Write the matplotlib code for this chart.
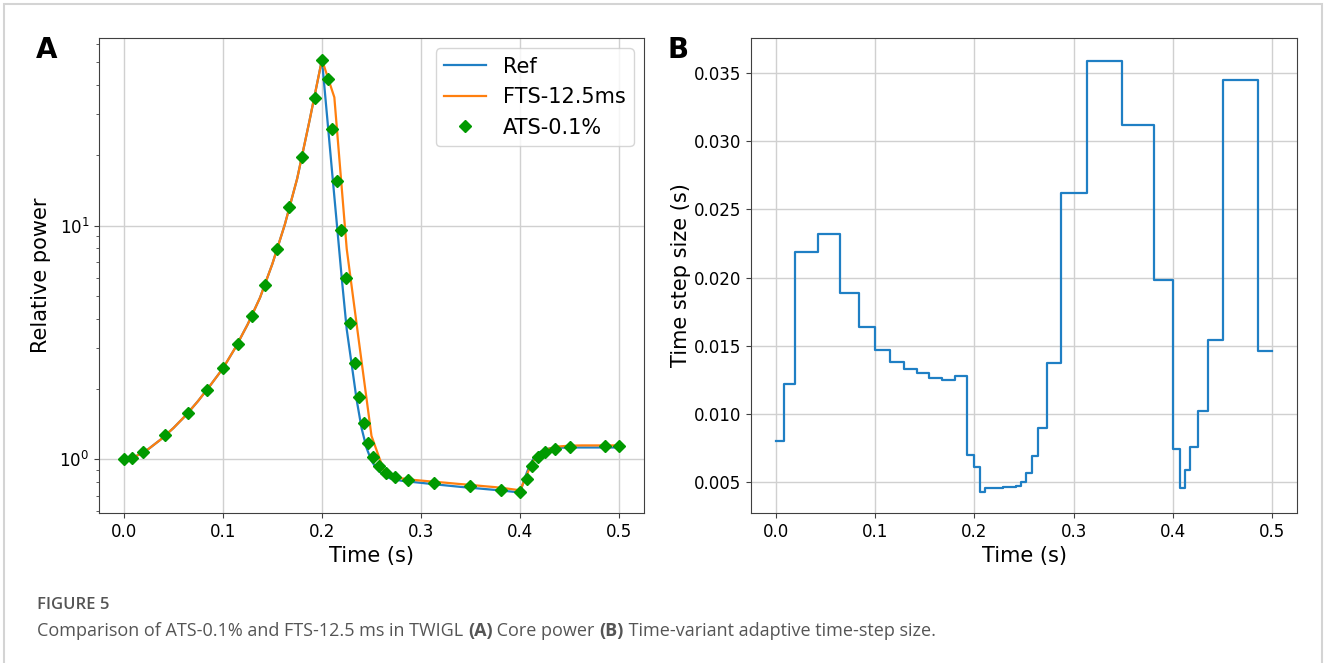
import numpy as np
import matplotlib
matplotlib.use("Agg")
import matplotlib.pyplot as plt
from matplotlib.patches import Rectangle

# ---------------- data ----------------
# Reference solution (fine time resolution)
ref_time = [0.0, 0.0125, 0.025, 0.0375, 0.05, 0.0625, 0.075, 0.0875, 0.1, 0.1125,
            0.125, 0.1375, 0.15, 0.1625, 0.175, 0.1875, 0.2, 0.205, 0.21, 0.215,
            0.22, 0.225, 0.23, 0.235, 0.24, 0.245, 0.25, 0.255, 0.26, 0.265,
            0.27, 0.28, 0.29, 0.30, 0.32, 0.34, 0.36, 0.38, 0.40, 0.4025,
            0.405, 0.4075, 0.41, 0.4125, 0.415, 0.42, 0.425, 0.43, 0.44, 0.45, 0.5]
ref_power = [1.0, 1.033, 1.109, 1.219, 1.361, 1.542, 1.778, 2.08, 2.449, 3.0,
             3.78, 4.92, 6.87, 10.1, 15.9, 28.2, 51.3, 29.9, 17.4, 10.2,
             5.95, 3.6, 2.55, 1.80, 1.36, 1.12, 0.985, 0.915, 0.87, 0.843,
             0.826, 0.811, 0.802, 0.794, 0.778, 0.763, 0.75, 0.737, 0.722, 0.78,
             0.84, 0.895, 0.945, 0.99, 1.03, 1.075, 1.10, 1.115, 1.122, 1.125, 1.125]

# Fixed time step 12.5 ms
fts_time = [0.0, 0.0125, 0.025, 0.0375, 0.05, 0.0625, 0.075, 0.0875, 0.1, 0.1125,
            0.125, 0.1375, 0.15, 0.1625, 0.175, 0.1875, 0.2, 0.2125, 0.225, 0.2375,
            0.25, 0.2625, 0.275, 0.2875, 0.3, 0.3125, 0.325, 0.3375, 0.35, 0.3625,
            0.375, 0.3875, 0.4, 0.4125, 0.425, 0.4375, 0.45, 0.4625, 0.475, 0.4875, 0.5]
fts_power = [1.0, 1.033, 1.109, 1.219, 1.361, 1.542, 1.778, 2.08, 2.449, 3.0,
             3.78, 4.92, 6.87, 10.1, 15.9, 28.2, 51.3, 35.4, 7.95, 3.15,
             1.26, 0.895, 0.838, 0.821, 0.812, 0.803, 0.795, 0.786, 0.778, 0.769,
             0.761, 0.75, 0.738, 0.98, 1.10, 1.135, 1.145, 1.148, 1.148, 1.148, 1.148]

# Adaptive time step (0.1 %)
ats_time = [0.0, 0.008, 0.0198, 0.0421, 0.0650, 0.0838, 0.1003, 0.1150, 0.1290, 0.1422,
            0.1548, 0.1672, 0.1800, 0.1928, 0.2000, 0.2061, 0.2104, 0.2149, 0.2195, 0.2241,
            0.2286, 0.2331, 0.2376, 0.2422, 0.2469, 0.2517, 0.2577, 0.2645, 0.2735, 0.2872,
            0.3132, 0.3492, 0.3805, 0.4000, 0.4072, 0.4118, 0.4176, 0.4254, 0.4354, 0.4506,
            0.4855, 0.5000]
ats_power = [1.0, 1.017, 1.079, 1.267, 1.58, 1.976, 2.455, 3.13, 4.10, 5.55,
             7.92, 11.98, 19.6, 35.3, 51.3, 42.4, 25.9, 15.6, 9.58, 5.98,
             3.84, 2.59, 1.85, 1.43, 1.175, 1.023, 0.933, 0.874, 0.840, 0.818,
             0.792, 0.766, 0.741, 0.729, 0.824, 0.936, 1.023, 1.075, 1.11, 1.13,
             1.14, 1.14]
# time-step size used from each ats_time point to the next
ats_dt = [0.0080, 0.0122, 0.0219, 0.0232, 0.0189, 0.0164, 0.0147, 0.0138, 0.0133, 0.0130,
          0.0126, 0.0125, 0.0128, 0.0070, 0.0061, 0.0043, 0.00455, 0.0046, 0.0046, 0.0046,
          0.00465, 0.00465, 0.00465, 0.0047, 0.0050, 0.0057, 0.0069, 0.0090, 0.0137, 0.0262,
          0.0359, 0.0312, 0.0198, 0.0074, 0.0046, 0.0059, 0.0076, 0.0102, 0.0154, 0.0345,
          0.0146]

x_ticks = [0.0, 0.1, 0.2, 0.3, 0.4, 0.5]
dt_ticks = [0.005, 0.010, 0.015, 0.020, 0.025, 0.030, 0.035]

# ---------------- figure ----------------
W, H = 1328, 663
fig = plt.figure(figsize=(W / 100, H / 100), dpi=100)
plt.rcParams['font.family'] = ['DejaVu Sans']

def ax_rect(x0, x1, y0, y1):
    return [x0 / W, 1 - y1 / H, (x1 - x0) / W, (y1 - y0) / H]

axA = fig.add_axes(ax_rect(99, 644, 38, 513))
axB = fig.add_axes(ax_rect(751, 1297, 38, 513))

tick_fs = 12
label_fs = 15
grid_color = '#d0d0d0'
spine_color = '#404040'

for ax in (axA, axB):
    for s in ax.spines.values():
        s.set_color(spine_color)

# Panel A
axA.plot(ref_time, ref_power, color='#1f7fc4', lw=1.6, label='Ref', zorder=2)
axA.plot(fts_time, fts_power, color='#ff7f0e', lw=1.6, label='FTS-12.5ms', zorder=3)
axA.plot(ats_time, ats_power, linestyle='none', marker='D', ms=6.5,
         color='#009a00', label='ATS-0.1%', zorder=4)
axA.set_yscale('log')
axA.set_xlim(-0.025, 0.525)
axA.set_ylim(0.590, 63.5)
axA.set_xticks(x_ticks)
axA.grid(True, color=grid_color, lw=1.0)
axA.set_xlabel('Time (s)', fontsize=label_fs)
axA.set_ylabel('Relative power', fontsize=label_fs, labelpad=6)
axA.tick_params(labelsize=tick_fs, color=spine_color)
axA.tick_params(which='minor', color=spine_color)
axA.legend(loc='upper right', fontsize=15)

# Panel B
axB.step(ats_time, list(ats_dt) + [ats_dt[-1]], where='post', color='#1f7fc4', lw=1.6)
axB.set_xlim(-0.025, 0.525)
axB.set_ylim(0.00273, 0.03757)
axB.set_xticks(x_ticks)
axB.set_yticks(dt_ticks)
axB.grid(True, color=grid_color, lw=1.0)
axB.set_xlabel('Time (s)', fontsize=label_fs)
axB.set_ylabel('Time step size (s)', fontsize=label_fs, labelpad=2)
axB.tick_params(labelsize=tick_fs, color=spine_color)

# Panel letters
fig.text(47 / W, 1 - 50 / H, 'A', fontsize=20, fontweight='bold', ha='center', va='center')
fig.text(678 / W, 1 - 50 / H, 'B', fontsize=20, fontweight='bold', ha='center', va='center')

# Border
fig.add_artist(Rectangle((4 / W, -0.05), (1322 - 4) / W, 1.05 - 4.5 / H,
                         transform=fig.transFigure, fill=False,
                         edgecolor='#d4d4d4', lw=1.5))

# Caption
cap_color = '#555555'
fig.text(37 / W, 1 - 609 / H, 'FIGURE 5', fontsize=12, color=cap_color,
         family='Open Sans', fontweight='semibold', ha='left', va='baseline')

pieces = [('Comparison of ATS-0.1% and FTS-12.5 ms in TWIGL ', 'normal'),
          ('(A)', 'bold'),
          (' Core power ', 'normal'),
          ('(B)', 'bold'),
          (' Time-variant adaptive time-step size.', 'normal')]
fig.canvas.draw()
renderer = fig.canvas.get_renderer()
x = 37
for txt, wt in pieces:
    t = fig.text(x / W, 1 - 636 / H, txt, fontsize=13, color=cap_color,
                 family='Open Sans', fontweight=wt, ha='left', va='baseline')
    bb = t.get_window_extent(renderer)
    x += bb.width

fig.savefig('out.png', dpi=100)
